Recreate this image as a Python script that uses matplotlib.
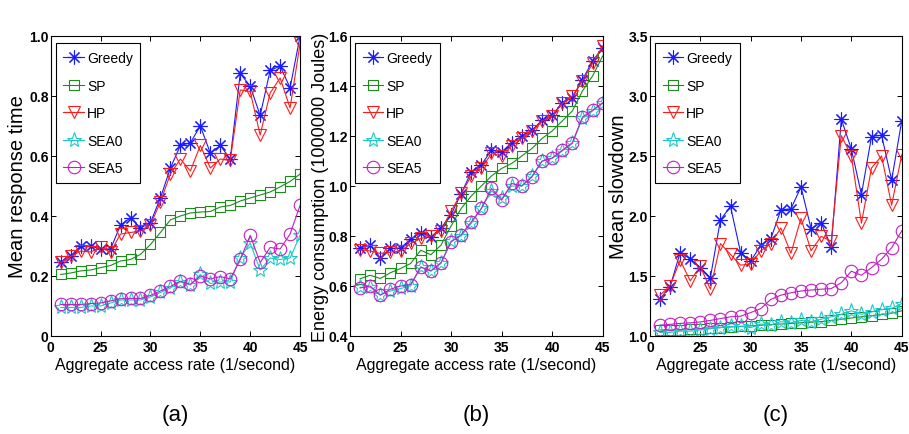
import matplotlib
matplotlib.use("Agg")
import matplotlib.pyplot as plt

# x positions (aggregate access rate)
rate = list(range(21, 46))

# (a) mean response time
resp_greedy = [0.247, 0.267, 0.30, 0.30, 0.29, 0.29, 0.37, 0.394, 0.36, 0.378,
               0.46, 0.56, 0.635, 0.644, 0.70, 0.61, 0.635, 0.59, 0.875, 0.833,
               0.735, 0.885, 0.90, 0.827, 1.0]
resp_sp = [0.205, 0.21, 0.217, 0.22, 0.228, 0.235, 0.25, 0.255, 0.272, 0.305,
           0.345, 0.387, 0.40, 0.41, 0.413, 0.415, 0.43, 0.435, 0.45, 0.46,
           0.47, 0.48, 0.497, 0.515, 0.54]
resp_hp = [0.245, 0.265, 0.283, 0.28, 0.295, 0.28, 0.34, 0.345, 0.35, 0.37,
           0.447, 0.54, 0.59, 0.55, 0.635, 0.56, 0.59, 0.585, 0.82, 0.815,
           0.67, 0.81, 0.86, 0.76, 0.975]
resp_sea0 = [0.095, 0.095, 0.095, 0.10, 0.10, 0.11, 0.12, 0.12, 0.12, 0.13,
             0.145, 0.16, 0.18, 0.17, 0.205, 0.175, 0.18, 0.18, 0.26, 0.31,
             0.22, 0.26, 0.255, 0.26, 0.335]
resp_sea5 = [0.105, 0.105, 0.105, 0.108, 0.11, 0.117, 0.124, 0.125, 0.125, 0.135,
             0.15, 0.165, 0.183, 0.172, 0.20, 0.19, 0.198, 0.19, 0.255, 0.335,
             0.245, 0.295, 0.29, 0.34, 0.435]

# (b) energy consumption
energy_greedy = [0.752, 0.763, 0.712, 0.75, 0.752, 0.787, 0.813, 0.796, 0.832, 0.885,
                 0.969, 1.056, 1.085, 1.143, 1.136, 1.173, 1.20, 1.223, 1.263, 1.283,
                 1.333, 1.352, 1.425, 1.50, 1.552]
energy_sp = [0.629, 0.643, 0.63, 0.653, 0.67, 0.69, 0.743, 0.725, 0.763, 0.84,
             0.91, 0.96, 1.00, 1.04, 1.07, 1.09, 1.12, 1.15, 1.19, 1.22,
             1.26, 1.30, 1.38, 1.44, 1.52]
energy_hp = [0.745, 0.74, 0.73, 0.735, 0.74, 0.77, 0.79, 0.80, 0.82, 0.90,
             0.97, 1.04, 1.07, 1.13, 1.12, 1.16, 1.19, 1.22, 1.26, 1.28,
             1.33, 1.36, 1.42, 1.49, 1.56]
energy_sea0 = [0.595, 0.595, 0.565, 0.58, 0.59, 0.60, 0.675, 0.66, 0.69, 0.78,
               0.80, 0.85, 0.91, 0.98, 0.95, 1.00, 1.00, 1.04, 1.10, 1.11,
               1.14, 1.17, 1.27, 1.30, 1.33]
energy_sea5 = [0.592, 0.60, 0.563, 0.587, 0.60, 0.605, 0.676, 0.66, 0.693, 0.776,
               0.805, 0.856, 0.91, 0.99, 0.943, 1.01, 1.00, 1.036, 1.099, 1.112,
               1.143, 1.173, 1.276, 1.303, 1.333]

# (c) mean slowdown
slow_greedy = [1.31, 1.41, 1.695, 1.645, 1.57, 1.486, 1.967, 2.08, 1.695, 1.625,
               1.755, 1.81, 2.05, 2.06, 2.243, 1.894, 1.944, 1.744, 2.807, 2.556,
               2.179, 2.662, 2.673, 2.299, 2.793]
slow_sp = [1.05, 1.05, 1.05, 1.055, 1.06, 1.065, 1.07, 1.075, 1.08, 1.085,
           1.09, 1.095, 1.10, 1.105, 1.11, 1.115, 1.12, 1.13, 1.14, 1.15,
           1.16, 1.17, 1.18, 1.19, 1.21]
slow_hp = [1.34, 1.42, 1.63, 1.46, 1.58, 1.39, 1.77, 1.68, 1.59, 1.60,
           1.71, 1.77, 1.90, 1.69, 1.98, 1.71, 1.83, 1.79, 2.67, 2.50,
           1.94, 2.40, 2.50, 2.09, 2.51]
slow_sea0 = [1.03, 1.03, 1.04, 1.04, 1.05, 1.06, 1.07, 1.08, 1.08, 1.07,
             1.10, 1.09, 1.12, 1.11, 1.13, 1.12, 1.14, 1.16, 1.18, 1.21,
             1.18, 1.20, 1.22, 1.23, 1.27]
slow_sea5 = [1.09, 1.097, 1.105, 1.11, 1.117, 1.13, 1.145, 1.16, 1.165, 1.195,
             1.228, 1.305, 1.34, 1.36, 1.375, 1.383, 1.39, 1.395, 1.444, 1.54,
             1.506, 1.57, 1.64, 1.736, 1.875]

series_names = ["Greedy", "SP", "HP", "SEA0", "SEA5"]
x_ticks = [20, 25, 30, 35, 40, 45]
x_ticklabels = ["0", "25", "30", "35", "40", "45"]

FONT = ["Liberation Sans", "DejaVu Sans"]

# marker styles mimic MATLAB's '*', 's', 'v', 'p', 'o'
STYLES = [
    dict(color="#1a1aff", marker=(8, 2, 0), ms=10),
    dict(color="#1a8c1a", marker="s", ms=7.5),
    dict(color="#ff1a1a", marker="v", ms=9),
    dict(color="#1ec8c8", marker="*", ms=11),
    dict(color="#c21ec2", marker="o", ms=9),
]

panels = [
    dict(rect=[0.0558, 0.2253, 0.2743, 0.6897],
         data=[resp_greedy, resp_sp, resp_hp, resp_sea0, resp_sea5],
         ylim=(0, 1.0), yticks=[0, 0.2, 0.4, 0.6, 0.8, 1.0],
         yticklabels=["0", "0.2", "0.4", "0.6", "0.8", "1.0"],
         ylabel="Mean response time", tag="(a)", labx=-0.095, labsize=14.5),
    dict(rect=[0.3850, 0.2253, 0.2780, 0.6897],
         data=[energy_greedy, energy_sp, energy_hp, energy_sea0, energy_sea5],
         ylim=(0.4, 1.6), yticks=[0.4, 0.6, 0.8, 1.0, 1.2, 1.4, 1.6],
         yticklabels=["0.4", "0.6", "0.8", "1.0", "1.2", "1.4", "1.6"],
         ylabel="Energy consumption (1000000 Joules)", tag="(b)", labx=-0.084,
         labsize=13),
    dict(rect=[0.7150, 0.2253, 0.2770, 0.6897],
         data=[slow_greedy, slow_sp, slow_hp, slow_sea0, slow_sea5],
         ylim=(1.0, 3.5), yticks=[1.0, 1.5, 2.0, 2.5, 3.0, 3.5],
         yticklabels=["1.0", "1.5", "2.0", "2.5", "3.0", "3.5"],
         ylabel="Mean slowdown", tag="(c)", labx=-0.088, labsize=14.5),
]

fig = plt.figure(figsize=(9.09, 4.35), dpi=100)
fig.patch.set_facecolor("white")

for p in panels:
    ax = fig.add_axes(p["rect"])
    for name, ys, st in zip(series_names, p["data"], STYLES):
        ax.plot(rate, ys, color=st["color"], lw=0.8, marker=st["marker"],
                ms=st["ms"], mfc="none", mec=st["color"], mew=0.8,
                label=name)
    ax.set_xlim(20, 45)
    ax.set_ylim(*p["ylim"])
    ax.set_xticks(x_ticks)
    ax.set_xticklabels(x_ticklabels, family=FONT, fontweight="bold",
                       fontsize=10)
    ax.set_yticks(p["yticks"])
    ax.set_yticklabels(p["yticklabels"], family=FONT, fontweight="bold",
                       fontsize=10)
    ax.tick_params(direction="in", top=True, right=True, length=3.5,
                   width=0.7, pad=1.5)
    ax.tick_params(axis="x", pad=3)
    for s in ax.spines.values():
        s.set_linewidth(0.8)
    ax.set_xlabel("Aggregate access rate (1/second)", family=FONT,
                  fontsize=11.5, labelpad=2)
    ax.set_ylabel(p["ylabel"], family=FONT, fontsize=p["labsize"])
    ax.yaxis.set_label_coords(p["labx"], 0.5)
    leg = ax.legend(loc="upper left", bbox_to_anchor=(0.02, 0.975),
                    borderaxespad=0, fancybox=False, framealpha=1,
                    edgecolor="black", prop=dict(family=FONT, size=10),
                    handlelength=1.5, handletextpad=0.2, labelspacing=0.97,
                    borderpad=0.55)
    leg.get_frame().set_linewidth(0.8)
    x0, y0, w, h = p["rect"]
    fig.text(x0 + w / 2, 0.044, p["tag"], ha="center", va="center",
             family=FONT, fontsize=16)

fig.savefig("out.png", dpi=100, facecolor="white")
